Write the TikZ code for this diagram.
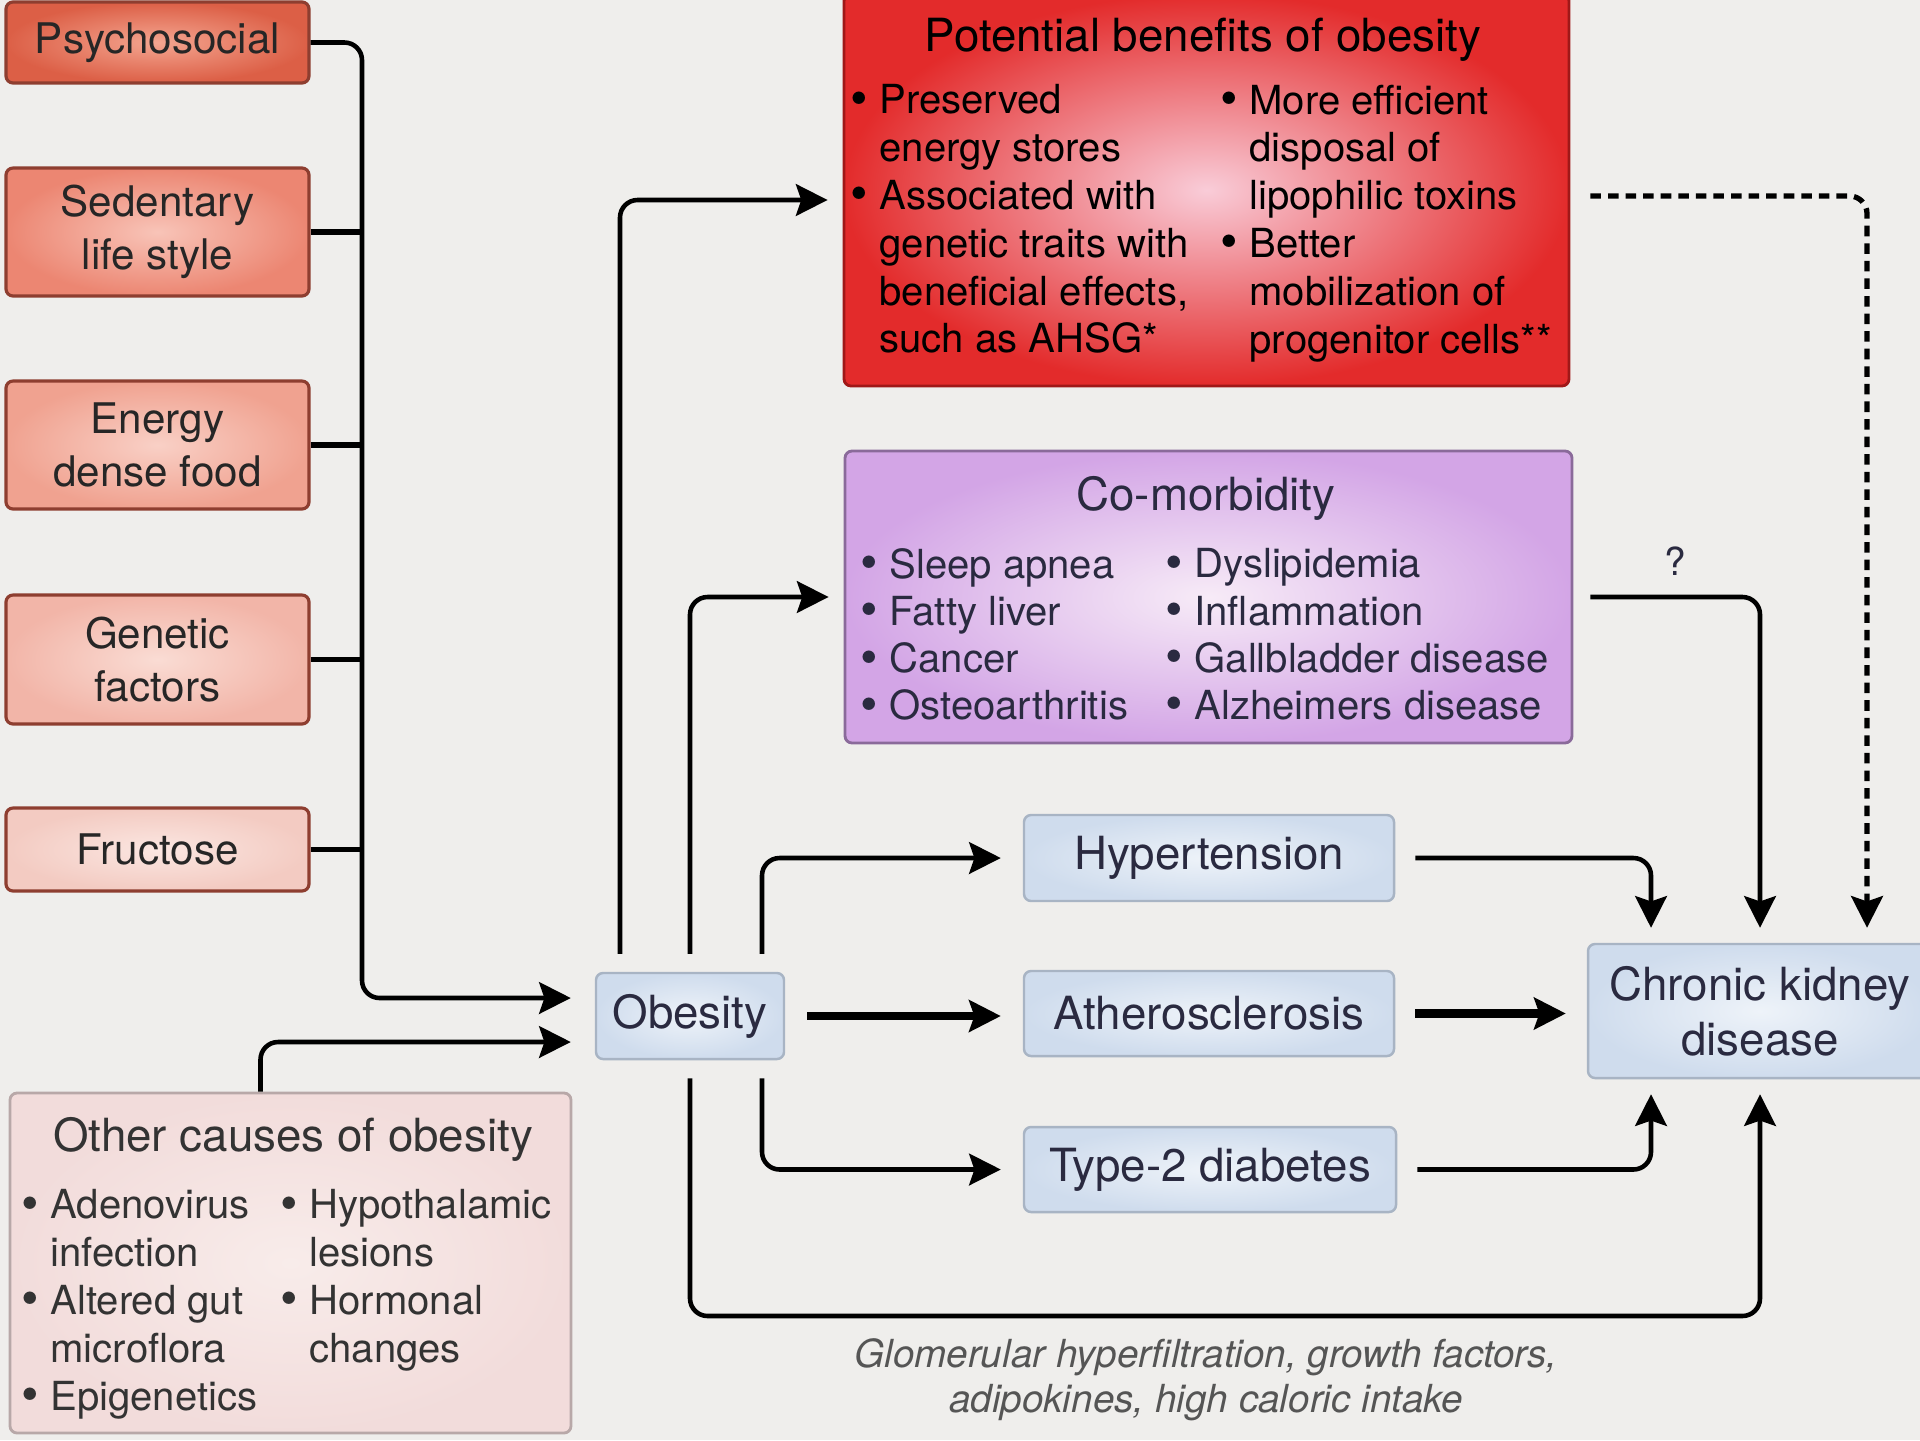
\documentclass[tikz,border=0pt]{standalone}
\usepackage{fontspec}
\setmainfont{TeX Gyre Heros}
\usetikzlibrary{arrows.meta,positioning}

\definecolor{bgcol}{HTML}{EFEEEC}
\definecolor{causeline}{HTML}{8E3E30}
\definecolor{psyout}{HTML}{DC5F46}
\definecolor{psyin}{HTML}{F4A590}
\definecolor{sedout}{HTML}{EC8672}
\definecolor{sedin}{HTML}{F8C4B8}
\definecolor{foodout}{HTML}{F0A290}
\definecolor{foodin}{HTML}{F9D0C6}
\definecolor{genout}{HTML}{F2B5A8}
\definecolor{genin}{HTML}{FADCD4}
\definecolor{fruout}{HTML}{F3CBC2}
\definecolor{fruin}{HTML}{FBE6E1}
\definecolor{othout}{HTML}{F2DCDB}
\definecolor{othin}{HTML}{F8ECEA}
\definecolor{othline}{HTML}{B8A8A8}
\definecolor{benout}{HTML}{E32B2B}
\definecolor{benin}{HTML}{F9CCD8}
\definecolor{benline}{HTML}{A01818}
\definecolor{comout}{HTML}{D3A5E6}
\definecolor{comin}{HTML}{F7EBF7}
\definecolor{comline}{HTML}{8A6A9A}
\definecolor{blueout}{HTML}{CFDCED}
\definecolor{bluein}{HTML}{EEF3F9}
\definecolor{blueline}{HTML}{A8B4C4}
\definecolor{bluetext}{HTML}{2A2A40}
\definecolor{capgray}{HTML}{555555}

\newcommand\bul{\makebox[0.72em][l]{\raisebox{-0.03em}{\scalebox{1.25}{\textbullet}}}}
\newcommand\hng{\hspace*{0.72em}}

\begin{document}
\begin{tikzpicture}[>={Stealth[length=9pt,width=9pt,inset=1.5pt]},
    cause/.style={draw=causeline, line width=0.9pt, rounded corners=2pt, inner sep=0pt,
      minimum width=3.03cm, align=center, text=black!85, font=\fontsize{12}{15}\selectfont},
    disease/.style={draw=blueline, line width=0.7pt, rounded corners=2pt, inner sep=0pt,
      inner color=bluein, outer color=blueout, align=center, text=bluetext,
      font=\fontsize{13}{15.6}\selectfont},
    listbox/.style={line width=0.8pt, rounded corners=2pt, inner sep=0pt},
    listtext/.style={anchor=north west, inner sep=0pt, align=left, font=\fontsize{11.4}{13.6}\selectfont},
    conn/.style={->, line width=1.3pt, rounded corners=5pt},
    thickconn/.style={->, line width=2.4pt},
  ]
  \useasboundingbox (0,0) rectangle (19.2,-14.4);
  \fill[bgcol] (0,0) rectangle (19.2,-14.4);

  % causes
  \node[cause, minimum height=0.81cm, inner color=psyin, outer color=psyout] (psy) at (1.575,-0.425) {Psychosocial};
  \node[cause, minimum height=1.28cm, inner color=sedin, outer color=sedout] (sed) at (1.575,-2.32) {Sedentary\\life style};
  \node[cause, minimum height=1.28cm, inner color=foodin, outer color=foodout] (food) at (1.575,-4.45) {Energy\\dense food};
  \node[cause, minimum height=1.29cm, inner color=genin, outer color=genout] (gen) at (1.575,-6.595) {Genetic\\factors};
  \node[cause, minimum height=0.83cm, inner color=fruin, outer color=fruout] (fru) at (1.575,-8.495) {Fructose};

  \node[listbox, draw=othline, minimum width=5.61cm, minimum height=3.4cm, inner color=othin, outer color=othout] (other) at (2.905,-12.63) {};
  \node[font=\fontsize{13}{15}\selectfont, text=black!80] (othert) at (2.93,-11.39) {Other causes of obesity};
  \node[listtext, text=black!80] (otherl) at (0.21,-11.89) {\bul Adenovirus\\\hng infection\\\bul Altered gut\\\hng microflora\\\bul Epigenetics};
  \node[listtext, text=black!80] (otherr) at (2.8,-11.89) {\bul Hypothalamic\\\hng lesions\\\bul Hormonal\\\hng changes};

  % obesity and outcomes
  \node[disease, minimum width=1.88cm, minimum height=0.86cm] (obes) at (6.9,-10.16) {Obesity};

  \node[listbox, draw=benline, minimum width=7.25cm, minimum height=3.92cm, inner color=benin, outer color=benout] (ben) at (12.065,-1.9) {};
  \node[font=\fontsize{13}{15}\selectfont] (bent) at (12.03,-0.4) {Potential benefits of obesity};
  \node[listtext] (benl) at (8.5,-0.84) {\bul Preserved\\\hng energy stores\\\bul Associated with\\\hng genetic traits with\\\hng beneficial effects,\\\hng such as AHSG*};
  \node[listtext] (benr) at (12.2,-0.84) {\bul More efficient\\\hng disposal of\\\hng lipophilic toxins\\\bul Better\\\hng mobilization of\\\hng progenitor cells**};

  \node[listbox, draw=comline, minimum width=7.27cm, minimum height=2.92cm, inner color=comin, outer color=comout] (com) at (12.085,-5.97) {};
  \node[font=\fontsize{13}{15}\selectfont, text=bluetext] (comt) at (12.06,-4.98) {Co-morbidity};
  \node[listtext, text=bluetext, font=\fontsize{11.4}{13.4}\selectfont] (coml) at (8.6,-5.48) {\bul Sleep apnea\\\bul Fatty liver\\\bul Cancer\\\bul Osteoarthritis};
  \node[listtext, text=bluetext, font=\fontsize{11.4}{13.4}\selectfont] (comr) at (11.65,-5.48) {\bul Dyslipidemia\\\bul Inflammation\\\bul Gallbladder disease\\\bul Alzheimers disease};

  \node[disease, minimum width=3.7cm, minimum height=0.86cm] (hyp) at (12.09,-8.58) {Hypertension};
  \node[disease, minimum width=3.7cm, minimum height=0.85cm] (ath) at (12.09,-10.135) {Atherosclerosis};
  \node[disease, minimum width=3.72cm, minimum height=0.85cm] (dia) at (12.1,-11.695) {Type-2 diabetes};
  \node[disease, minimum width=3.44cm, minimum height=1.34cm] (ckd) at (17.6,-10.11) {Chronic kidney\\disease};

  % causes to obesity
  \coordinate (bus) at (3.62,-9.98);
  \draw[conn] (psy.east) -| (bus) -- ([xshift=-0.24cm,yshift=0.18cm]obes.west);
  \foreach \n in {sed,food,gen,fru}
    \draw[line width=1.5pt] (\n.east) -- (\n.east -| bus);
  \draw[conn] ([xshift=-0.3cm]other.north) |- ([xshift=-0.24cm,yshift=-0.26cm]obes.west);

  % obesity to outcomes
  \draw[conn, shorten >=0.15cm] ([xshift=-0.7cm,yshift=0.18cm]obes.north) |- ([yshift=-0.1cm]ben.west);
  \draw[conn, shorten >=0.15cm] ([yshift=0.18cm]obes.north) |- (com.west);
  \draw[conn, shorten >=0.22cm] ([xshift=0.72cm,yshift=0.18cm]obes.north) |- (hyp.west);
  \draw[thickconn, shorten <=0.22cm, shorten >=0.22cm] (obes.east) -- (obes.east -| ath.west);
  \draw[conn, shorten >=0.22cm] ([xshift=0.72cm,yshift=-0.18cm]obes.south) |- (dia.west);
  \coordinate (glom) at (17.6,-13.16);
  \draw[conn] ([yshift=-0.18cm]obes.south) |- (glom) -- ([yshift=-0.15cm]ckd.south);
  \node[font=\fontsize{11}{12.9}\selectfont\itshape, text=capgray, align=center] (glomt) at (12.06,-13.8) {Glomerular hyperfiltration, growth factors,\\adipokines, high caloric intake};

  % outcomes to CKD
  \draw[conn, line width=1.5pt, dash pattern=on 3pt off 2pt] ([xshift=0.2cm,yshift=-0.06cm]ben.east) -| ([xshift=1.07cm,yshift=0.15cm]ckd.north);
  \draw[conn] ([xshift=0.17cm]com.east) -| ([yshift=0.15cm]ckd.north) node[pos=0.25, above=2pt, font=\fontsize{11}{13}\selectfont, text=bluetext] (qmark) {?};
  \draw[conn] ([xshift=0.2cm]hyp.east) -| ([xshift=-1.09cm,yshift=0.15cm]ckd.north);
  \draw[thickconn, shorten <=0.2cm, shorten >=0.21cm] (ath.east) -- (ath.east -| ckd.west);
  \draw[conn] ([xshift=0.2cm]dia.east) -| ([xshift=-1.09cm,yshift=-0.15cm]ckd.south);
\end{tikzpicture}
\end{document}
